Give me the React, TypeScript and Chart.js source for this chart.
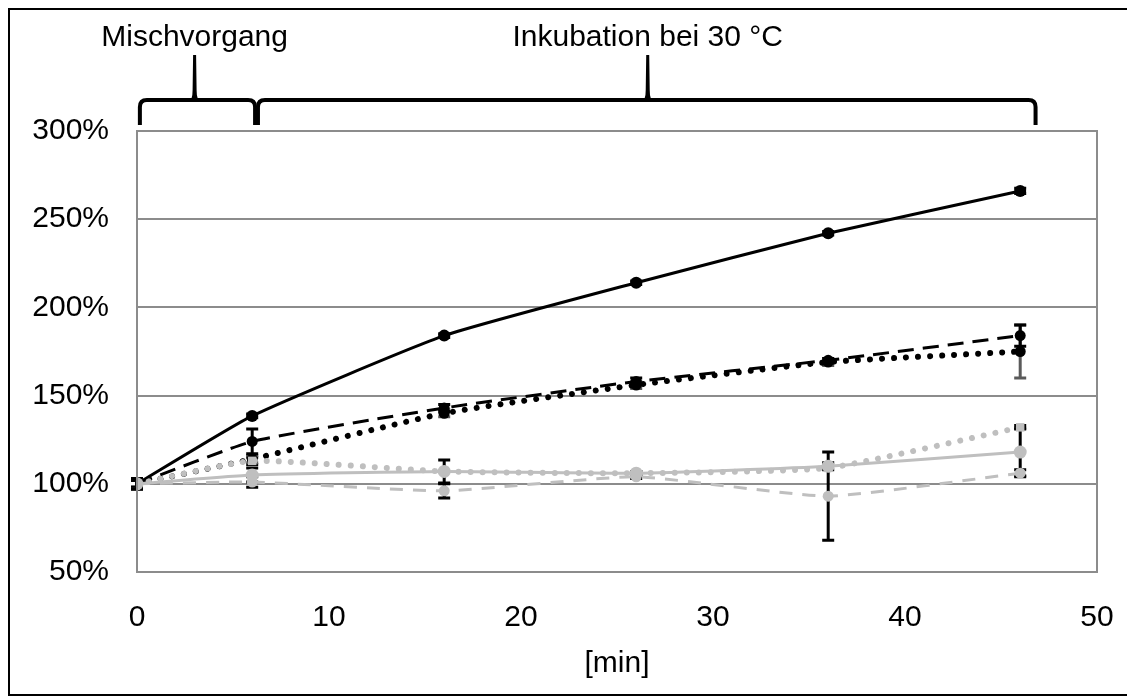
import React, { useEffect, useRef } from "react";
import { Chart, registerables } from "chart.js";

Chart.register(...registerables);

// ---- data ----
const minutes = [0, 6, 16, 26, 36, 46];
const blackSolid = [100, 138.5, 184, 214, 242, 266];
const blackDashed = [100, 124, 143, 158, 170, 184];
const blackDotted = [100, 114, 140, 156, 169, 175];
const grayDotted = [100, 113, 107, 106, 109, 132];
const graySolid = [100, 105, 107, 106, 110, 118];
const grayDashed = [100, 101, 96, 104, 93, 106];

const errBlackSolid = [3, 1, 1, 1, 1, 1.5];
const errBlackDashed = [3, 7, 2, 2, 1, 6];
const errBlackDotted = [3, 2, 2, 2, 2, 15];
const errGrayDotted = [2, 2, 0, 1, 0, 1];
const errGraySolid = [2, 4, 6.5, 1, 2, 13.5];
const errGrayDashed = [2, 3, 4, 1, 25, 2];

const yTicks = [50, 100, 150, 200, 250, 300];
const xTicks = [0, 10, 20, 30, 40, 50];

const braceStart = [0.15, 6.3];
const braceEnd = [6.15, 46.8];
const braceTip = [3.0, 26.6];
const braceLabels = ["Mischvorgang", "Inkubation bei 30 °C"];

const FONT = "'Liberation Sans', Arial, sans-serif";
const FS = 30;
const GRID = "#8c8c8c";
const GRAY = "#bfbfbf";

const pts = (ys: number[]) => minutes.map((x, i) => ({ x, y: ys[i] }));

const errorBarPlugin = {
  id: "errorBars",
  beforeDatasetsDraw(chart: any) {
    const { ctx } = chart;
    const xs = chart.scales.x;
    const ys = chart.scales.y;
    chart.data.datasets.forEach((ds: any) => {
      const errs: number[] = ds.errors;
      if (!errs) return;
      ctx.save();
      ctx.strokeStyle = ds.errorColor || "#000";
      ctx.lineWidth = 3;
      ctx.lineCap = "butt";
      ds.data.forEach((p: any, i: number) => {
        const e = errs[i];
        if (!e) return;
        const px = xs.getPixelForValue(p.x);
        const top = ys.getPixelForValue(p.y + e);
        const bot = ys.getPixelForValue(p.y - e);
        ctx.beginPath();
        ctx.moveTo(px, top);
        ctx.lineTo(px, bot);
        ctx.moveTo(px - 6, top);
        ctx.lineTo(px + 6, top);
        ctx.moveTo(px - 6, bot);
        ctx.lineTo(px + 6, bot);
        ctx.stroke();
      });
      ctx.restore();
    });
  },
};

const framePlugin = {
  id: "frameAndBraces",
  afterDraw(chart: any) {
    const { ctx, chartArea } = chart;
    const xs = chart.scales.x;
    ctx.save();
    ctx.strokeStyle = GRID;
    ctx.lineWidth = 2;
    ctx.strokeRect(chartArea.left, chartArea.top, chartArea.right - chartArea.left, chartArea.bottom - chartArea.top);

    const yLine = chartArea.top - 31;
    const yEnd = chartArea.top - 6;
    const yTipTop = chartArea.top - 76;
    const yText = chartArea.top - 93;
    ctx.strokeStyle = "#000";
    ctx.fillStyle = "#000";
    ctx.lineWidth = 4;
    ctx.lineJoin = "round";
    for (let i = 0; i < braceStart.length; i++) {
      const x1 = xs.getPixelForValue(braceStart[i]);
      const x2 = xs.getPixelForValue(braceEnd[i]);
      const xt = xs.getPixelForValue(braceTip[i]);
      const r = 7;
      ctx.beginPath();
      ctx.moveTo(x1, yEnd);
      ctx.lineTo(x1, yLine + r);
      ctx.quadraticCurveTo(x1, yLine, x1 + r, yLine);
      ctx.lineTo(x2 - r, yLine);
      ctx.quadraticCurveTo(x2, yLine, x2, yLine + r);
      ctx.lineTo(x2, yEnd);
      ctx.stroke();
      ctx.beginPath();
      ctx.moveTo(xt - 6, yLine + 2);
      ctx.quadraticCurveTo(xt - 2, yLine, xt - 2, yLine - 10);
      ctx.lineTo(xt - 1.5, yTipTop);
      ctx.lineTo(xt + 1.5, yTipTop);
      ctx.lineTo(xt + 2, yLine - 10);
      ctx.quadraticCurveTo(xt + 2, yLine, xt + 6, yLine + 2);
      ctx.closePath();
      ctx.fill();
      ctx.font = `${FS}px ${FONT}`;
      ctx.textAlign = "center";
      ctx.textBaseline = "middle";
      ctx.fillText(braceLabels[i], xt, yText);
    }
    ctx.restore();
  },
};

export default function App() {
  const ref = useRef<HTMLCanvasElement | null>(null);
  useEffect(() => {
    if (!ref.current) return;
    const chart = new Chart(ref.current, {
      type: "line",
      data: {
        datasets: [
          {
            label: "grau gepunktet",
            data: pts(grayDotted),
            errors: errGrayDotted,
            borderColor: GRAY,
            backgroundColor: GRAY,
            borderWidth: 6,
            borderDash: [0.01, 12],
            borderCapStyle: "round",
            pointStyle: "rect",
            pointRadius: 6,
            pointBorderWidth: 0,
            tension: 0.15,
          },
          {
            label: "grau gestrichelt",
            data: pts(grayDashed),
            errors: errGrayDashed,
            borderColor: GRAY,
            backgroundColor: GRAY,
            borderWidth: 3,
            borderDash: [13, 10],
            pointRadius: 5.5,
            pointBorderWidth: 0,
            tension: 0.15,
          },
          {
            label: "grau",
            data: pts(graySolid),
            errors: errGraySolid,
            borderColor: GRAY,
            backgroundColor: GRAY,
            borderWidth: 3,
            pointRadius: 6.5,
            pointBorderWidth: 0,
            tension: 0.15,
          },
          {
            label: "schwarz gepunktet",
            data: pts(blackDotted),
            errors: errBlackDotted,
            errorColor: "#5a5a5a",
            borderColor: "#000",
            backgroundColor: "#000",
            borderWidth: 6,
            borderDash: [0.01, 12],
            borderCapStyle: "round",
            pointRadius: 5.5,
            pointBorderWidth: 0,
            tension: 0.15,
          },
          {
            label: "schwarz gestrichelt",
            data: pts(blackDashed),
            errors: errBlackDashed,
            borderColor: "#000",
            backgroundColor: "#000",
            borderWidth: 3,
            borderDash: [16, 9],
            pointRadius: 5.5,
            pointBorderWidth: 0,
            tension: 0.15,
          },
          {
            label: "schwarz",
            data: pts(blackSolid),
            errors: errBlackSolid,
            borderColor: "#000",
            backgroundColor: "#000",
            borderWidth: 3,
            pointRadius: 6,
            pointBorderWidth: 0,
            tension: 0.15,
          },
        ] as any,
      },
      options: {
        animation: false,
        responsive: false,
        layout: { padding: { top: 121, right: 34, left: 0, bottom: 0 } },
        plugins: { legend: { display: false }, tooltip: { enabled: false } },
        scales: {
          x: {
            type: "linear",
            min: 0,
            max: 50,
            afterBuildTicks: (s: any) => {
              s.ticks = xTicks.map((v) => ({ value: v }));
            },
            afterFit: (s: any) => {
              s.height = 122;
              s.paddingLeft = 0;
              s.paddingRight = 0;
            },
            grid: { display: false, drawTicks: false },
            border: { display: false },
            ticks: { color: "#000", font: { family: FONT, size: FS }, padding: 28, maxRotation: 0 },
            title: {
              display: true,
              text: "[min]",
              color: "#000",
              font: { family: FONT, size: FS },
              padding: { top: 0, bottom: 12 },
            },
          },
          y: {
            type: "linear",
            min: 50,
            max: 300,
            afterBuildTicks: (s: any) => {
              s.ticks = yTicks.map((v) => ({ value: v }));
            },
            afterFit: (s: any) => {
              s.width = 127;
              s.paddingTop = 0;
              s.paddingBottom = 0;
            },
            grid: { color: GRID, lineWidth: 2, drawTicks: false },
            border: { display: false },
            ticks: {
              color: "#000",
              font: { family: FONT, size: FS },
              padding: 28,
              callback: (v: any) => `${v}%`,
            },
          },
        },
      },
      plugins: [errorBarPlugin, framePlugin],
    } as any);
    return () => chart.destroy();
  }, []);
  return (
    <div style={{ width: 1121, height: 684, border: "2px solid #000", background: "#fff" }}>
      <canvas ref={ref} width={1121} height={684} style={{ display: "block" }} />
    </div>
  );
}
